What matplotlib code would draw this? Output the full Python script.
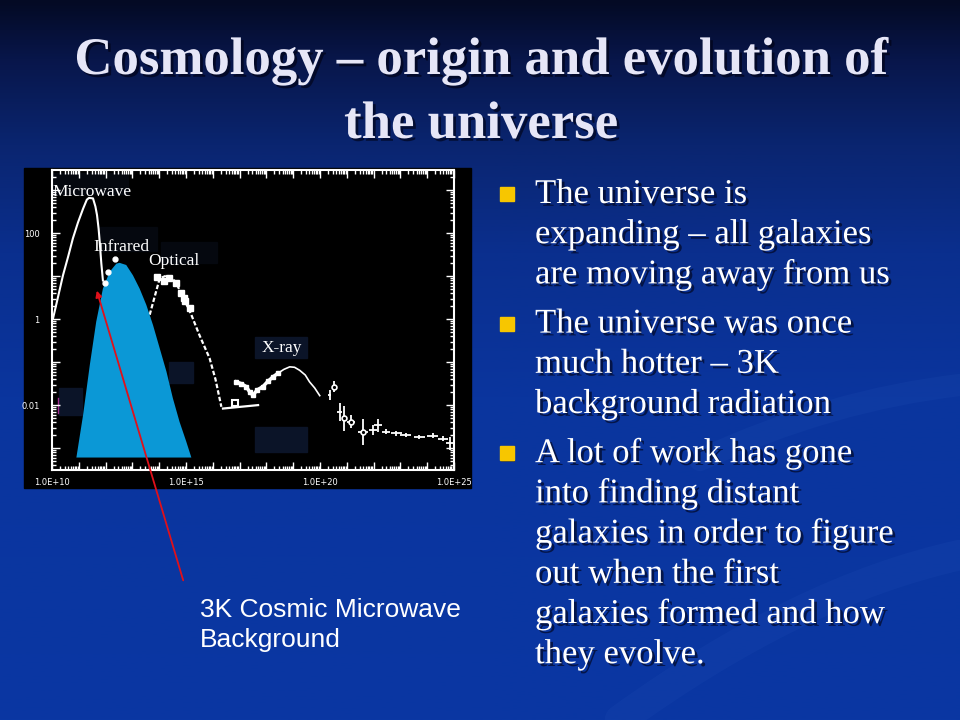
import numpy as np
import matplotlib
matplotlib.use("Agg")
import matplotlib.pyplot as plt
import matplotlib.patheffects as pe
from matplotlib.colors import LinearSegmentedColormap
from matplotlib.patches import Rectangle, Polygon, FancyArrowPatch, PathPatch
from matplotlib.path import Path
from matplotlib.ticker import LogLocator, FuncFormatter, NullFormatter

# ---- spectrum data (log10 frequency, log10 intensity) ----
mw_x = [10.04, 10.2, 10.41, 10.6, 10.78, 10.97, 11.16, 11.3, 11.38, 11.53, 11.62, 11.68, 11.74, 11.78, 11.84, 11.9]
mw_y = [0.02, 0.45, 1.02, 1.45, 1.88, 2.25, 2.57, 2.78, 2.82, 2.81, 2.62, 2.42, 2.1, 1.8, 1.3, 0.9]

ir_x = [11.98, 12.09, 12.34]
ir_y = [0.85, 1.1, 1.39]

opt_line_x = [13.4, 13.64, 14.02, 14.3, 14.6, 14.9, 15.2, 15.5, 15.88, 16.1, 16.32]
opt_line_y = [-0.5, 0.09, 0.95, 1.02, 0.88, 0.5, 0.1, -0.37, -0.91, -1.4, -2.04]
opt_x = [13.93, 14.17, 14.37, 14.64, 14.83, 14.91, 14.98, 15.16]
opt_y = [0.98, 0.88, 0.95, 0.85, 0.6, 0.5, 0.42, 0.25]

flat_x = [16.38, 17.69]
flat_y = [-2.08, -2.0]
box_x = [16.82]
box_y = [-1.94]

xr_thick_x = [16.88, 17.06, 17.25, 17.37, 17.5, 17.65, 17.87, 18.05, 18.25, 18.43]
xr_thick_y = [-1.46, -1.5, -1.57, -1.69, -1.77, -1.65, -1.57, -1.45, -1.34, -1.26]
xr_thin_x = [18.43, 18.65, 18.87, 19.05, 19.24, 19.45, 19.61, 19.8, 19.99]
xr_thin_y = [-1.26, -1.17, -1.11, -1.12, -1.19, -1.3, -1.46, -1.6, -1.78]

g_x = [20.36, 20.51, 20.73, 20.91, 21.16, 21.6, 21.97, 22.16, 22.47, 22.85, 23.2, 23.7, 24.2, 24.59, 24.84]
g_y = [-1.77, -1.57, -2.16, -2.31, -2.39, -2.62, -2.58, -2.47, -2.62, -2.66, -2.7, -2.74, -2.71, -2.78, -2.89]
g_yerr = [0.12, 0.12, 0.2, 0.3, 0.15, 0.3, 0.12, 0.15, 0.06, 0.06, 0.05, 0.05, 0.06, 0.05, 0.15]
g_xerr = [0.05, 0.05, 0.08, 0.08, 0.15, 0.2, 0.15, 0.15, 0.15, 0.2, 0.2, 0.2, 0.2, 0.2, 0.15]

# blue CMB overlay outline
cmb_x = [10.91, 11.16, 11.41, 11.65, 11.9, 12.15, 12.4, 12.52, 12.77, 13.02, 13.27,
         13.52, 13.77, 14.02, 14.27, 14.51, 14.76, 15.01, 15.2]
cmb_y = [-3.22, -2.23, -1.07, -0.06, 0.71, 1.1, 1.29, 1.31, 1.26, 1.02, 0.71,
         0.33, -0.14, -0.68, -1.22, -1.84, -2.39, -2.85, -3.22]

band_labels = ["Microwave", "Infrared", "Optical", "X-ray"]
band_label_x = [10.03, 11.53, 13.58, 17.84]
band_label_y = [2.95, 1.67, 1.35, -0.67]

title_lines = ["Cosmology \u2013 origin and evolution of", "the universe"]
bullets = [
    ["The universe is", "expanding \u2013 all galaxies", "are moving away from us"],
    ["The universe was once", "much hotter \u2013 3K", "background radiation"],
    ["A lot of work has gone", "into finding distant", "galaxies in order to figure",
     "out when the first", "galaxies formed and how", "they evolve."],
]
cmb_label = ["3K Cosmic Microwave", "Background"]

W, H = 960, 720
fig = plt.figure(figsize=(9.6, 7.2), dpi=100)

# slide background
bg = fig.add_axes([0, 0, 1, 1])
bg.set_xlim(0, W)
bg.set_ylim(H, 0)
bg.axis("off")
cmap = LinearSegmentedColormap.from_list(
    "slide", [(0, "#040a24"), (0.08, "#08164a"), (0.2, "#0a2570"),
              (0.35, "#0a2f8e"), (0.55, "#0a359e"), (1.0, "#0a37a3")])
grad = np.linspace(0, 1, 256).reshape(-1, 1)
bg.imshow(grad, cmap=cmap, extent=[0, W, H, 0], aspect="auto", zorder=0)

# faint swooshes behind the bullet text
for verts, lw in [([(620, 720), (800, 590), (960, 555)], 22),
                  ([(700, 460), (830, 400), (960, 385)], 16)]:
    bg.add_patch(PathPatch(Path(verts, [Path.MOVETO, Path.CURVE3, Path.CURVE3]),
                           facecolor="none", edgecolor="#2a5cc0", lw=lw, alpha=0.13,
                           capstyle="round", zorder=1))

shadow = [pe.SimplePatchShadow(offset=(2, -2), shadow_rgbFace="#000010", alpha=0.6), pe.Normal()]

for i, line in enumerate(title_lines):
    bg.text(481, 74 + i * 64, line, ha="center", va="baseline", fontsize=38,
            fontweight="bold", family="Liberation Serif", color="#e6e6f7",
            path_effects=shadow, zorder=3)

y = 203
for b in bullets:
    bg.add_patch(Rectangle((500, y - 16), 14, 14, color="#f7c600", zorder=3,
                           path_effects=[pe.SimplePatchShadow(offset=(1, -1), alpha=0.5), pe.Normal()]))
    for line in b:
        bg.text(535, y, line, ha="left", va="baseline", fontsize=25,
                family="Liberation Serif", color="white", path_effects=shadow, zorder=3)
        y += 40.2
    y += 9

for i, line in enumerate(cmb_label):
    bg.text(200, 617 + i * 30, line, ha="left", va="baseline", fontsize=19,
            family="Liberation Sans", color="white", zorder=3)

# black picture area
bg.add_patch(Rectangle((24, 168), 447, 320, color="black", zorder=2))

# ---- the spectrum chart ----
ax = fig.add_axes([52 / W, 1 - 470 / H, 402 / W, 300 / H])
ax.set_facecolor("black")
ax.set_xscale("log")
ax.set_yscale("log")
ax.set_xlim(1e10, 1e25)
ax.set_ylim(10 ** -3.51, 10 ** 3.47)

p = lambda v: 10 ** np.asarray(v)

# dim label boxes
for (x0, y0, w, h, c) in [(0.0, 0.92, 0.19, 0.07, "#05080f"), (0.12, 0.73, 0.14, 0.08, "#05080f"),
                          (0.27, 0.69, 0.14, 0.07, "#05080f"),
                          (0.505, 0.373, 0.13, 0.07, "#0b1428"), (0.505, 0.06, 0.13, 0.085, "#0b1428"),
                          (0.29, 0.29, 0.06, 0.07, "#0b1428"), (0.017, 0.183, 0.058, 0.09, "#0b1428")]:
    ax.add_patch(Rectangle((x0, y0), w, h, transform=ax.transAxes, color=c, zorder=1))
ax.plot([0.015, 0.015], [0.19, 0.24], transform=ax.transAxes, color="#a03090", lw=1, zorder=1)

ax.plot(p(mw_x), p(mw_y), color="white", lw=1.5, zorder=3)
ax.plot(p(ir_x), p(ir_y), "o", color="white", ms=3.5, zorder=5)
ax.plot(p(opt_line_x), p(opt_line_y), color="white", lw=1.6, ls=(0, (2, 1)), zorder=3)
ax.plot(p(opt_x), p(opt_y), "s", color="white", ms=4, zorder=5)
ax.plot(p(flat_x), p(flat_y), color="white", lw=1.6, zorder=3)
ax.plot(p(box_x), p(box_y), "s", mfc="none", mec="white", ms=5, mew=1.5, zorder=3)
ax.plot(p(xr_thick_x), p(xr_thick_y), color="white", lw=2.5, marker="s", ms=3, zorder=3)
ax.plot(p(xr_thin_x), p(xr_thin_y), color="white", lw=1.2, zorder=3)

gx, gy = p(g_x), p(g_y)
ax.errorbar(gx, gy,
            yerr=[gy - p(np.array(g_y) - g_yerr), p(np.array(g_y) + g_yerr) - gy],
            xerr=[gx - p(np.array(g_x) - g_xerr), p(np.array(g_x) + g_xerr) - gx],
            fmt="none", ecolor="white", elinewidth=1.3, zorder=3)
ax.plot(gx[[1, 3, 4, 5]], gy[[1, 3, 4, 5]], "o", mfc="black", mec="white", ms=3.5, mew=1.2, zorder=4)

ax.add_patch(Polygon(np.column_stack([p(cmb_x), p(cmb_y)]), closed=True,
                     facecolor="#0b98d6", edgecolor="none", zorder=4))

for name, lx, ly in zip(band_labels, band_label_x, band_label_y):
    ax.text(p(lx), p(ly), name, ha="left", va="center", color="white",
            family="Liberation Serif", fontsize=12.5, zorder=6)

ax.xaxis.set_major_locator(LogLocator(base=10, numticks=30))
ax.xaxis.set_minor_locator(LogLocator(base=10, subs=np.arange(2, 10), numticks=300))
ax.yaxis.set_major_locator(LogLocator(base=10, numticks=30))
ax.yaxis.set_minor_locator(LogLocator(base=10, subs=np.arange(2, 10), numticks=300))
ax.xaxis.set_major_formatter(FuncFormatter(
    lambda v, pos: "1.0E+%d" % round(np.log10(v)) if round(np.log10(v)) % 5 == 0 else ""))
ylabels = {2: "100", 0: "1", -2: "0.01"}
ax.yaxis.set_major_formatter(FuncFormatter(lambda v, pos: ylabels.get(round(np.log10(v)), "")))
ax.xaxis.set_minor_formatter(NullFormatter())
ax.yaxis.set_minor_formatter(NullFormatter())
ax.tick_params(which="both", direction="in", top=True, right=True, colors="white",
               labelsize=6, width=1)
ax.tick_params(which="major", length=6)
ax.tick_params(which="minor", length=3)
ax.tick_params(axis="y", pad=9)
ax.tick_params(axis="x", pad=6)
for s in ax.spines.values():
    s.set_color("white")
    s.set_linewidth(1.5)

# arrow overlay
top = fig.add_axes([0, 0, 1, 1])
top.set_xlim(0, W)
top.set_ylim(H, 0)
top.axis("off")
top.patch.set_alpha(0)
top.add_patch(FancyArrowPatch((184, 583), (96, 288), arrowstyle="-|>", mutation_scale=9,
                              color="#e0101a", lw=1.3))

fig.savefig("out.png", dpi=100)
